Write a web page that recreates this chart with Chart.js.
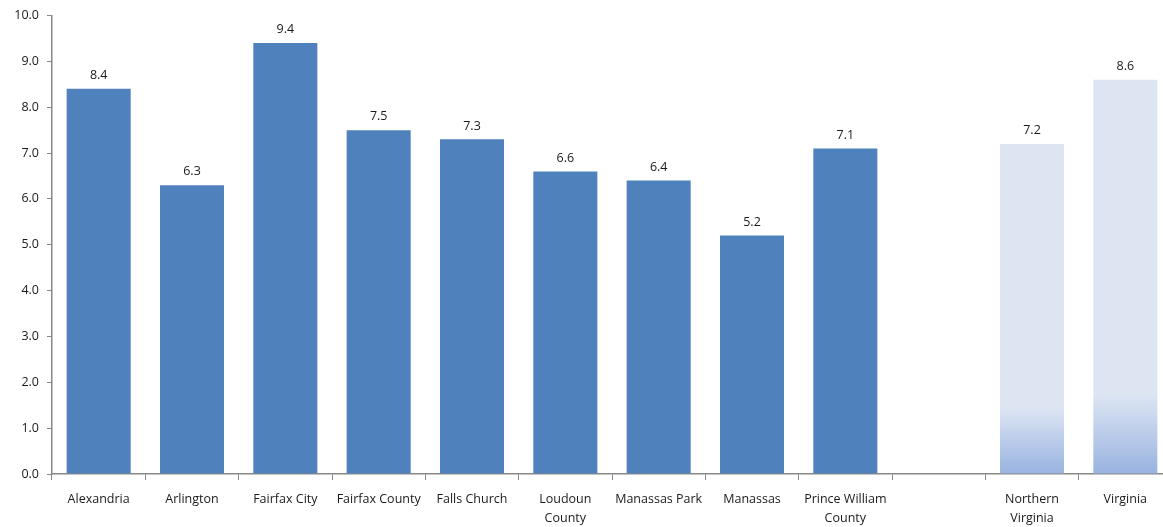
<!DOCTYPE html>
<html>
<head>
<meta charset="utf-8">
<script src="https://cdn.jsdelivr.net/npm/chart.js@4"></script>
<style>
  html, body { margin: 0; padding: 0; background: #fff; overflow: hidden; }
  #wrap { width: 1172px; height: 527px; position: relative; }
</style>
</head>
<body>
<div id="wrap"><canvas id="chart"></canvas></div>
<script>
// categorias (el hueco vacio separa las regiones)
const categories = [
  "Alexandria", "Arlington", "Fairfax City", "Fairfax County", "Falls Church",
  ["Loudoun", "County"], "Manassas Park", "Manassas", ["Prince William", "County"],
  "", ["Northern", "Virginia"], "Virginia"
];
const values = [8.4, 6.3, 9.4, 7.5, 7.3, 6.6, 6.4, 5.2, 7.1, null, 7.2, 8.6];
const isRegion = [false, false, false, false, false, false, false, false, false, false, true, true];
const yTicks = [0, 1, 2, 3, 4, 5, 6, 7, 8, 9, 10];

const FONT = "'Open Sans', 'DejaVu Sans', sans-serif";
const TXT = "#1a1a1a";

function barColor(ctx) {
  const i = ctx.dataIndex;
  if (!isRegion[i]) return "#4f81bd";
  const chart = ctx.chart;
  const y = chart.scales.y;
  if (!y || !chart.chartArea) return "#dde5f3";
  const top = y.getPixelForValue(values[i]);
  const bot = y.getPixelForValue(0);
  const g = chart.ctx.createLinearGradient(0, bot, 0, top);
  g.addColorStop(0, "#98b3e0");
  g.addColorStop(0.2, "#dde5f3");
  g.addColorStop(1, "#dde5f3");
  return g;
}

// etiquetas encima de cada barra
const valueLabels = {
  id: "valueLabels",
  afterDatasetsDraw(chart) {
    const c = chart.ctx;
    const meta = chart.getDatasetMeta(0);
    c.save();
    c.font = "12.5px " + FONT;
    c.fillStyle = TXT;
    c.textAlign = "center";
    c.textBaseline = "bottom";
    meta.data.forEach((bar, i) => {
      if (values[i] == null) return;
      c.fillText(values[i].toFixed(1), bar.x, bar.y - 7);
    });
    c.restore();
  }
};

new Chart(document.getElementById("chart"), {
  type: "bar",
  data: {
    labels: categories,
    datasets: [{
      data: values,
      backgroundColor: barColor,
      barPercentage: 0.686,
      categoryPercentage: 1.0
    }]
  },
  options: {
    responsive: true,
    maintainAspectRatio: false,
    animation: false,
    layout: { padding: { top: 14, right: 0, left: 0, bottom: 0 } },
    plugins: { legend: { display: false }, tooltip: { enabled: false } },
    scales: {
      x: {
        offset: true,
        afterFit: (s) => { s.height = 53; },
        grid: { offset: true, drawOnChartArea: false, drawTicks: true, tickLength: 6, color: "#888" },
        border: { color: "#888", width: 1.5 },
        ticks: { color: TXT, font: { family: FONT, size: 12.5, lineHeight: 1.5 }, maxRotation: 0, autoSkip: false, padding: 10 }
      },
      y: {
        min: 0, max: 10,
        afterBuildTicks: (s) => { s.ticks = yTicks.map(v => ({ value: v })); },
        afterFit: (s) => { s.width = 52; },
        grid: { drawOnChartArea: false, drawTicks: true, tickLength: 5, color: "#888" },
        border: { color: "#888", width: 1.5 },
        ticks: { color: TXT, font: { family: FONT, size: 12.5 }, padding: 8, callback: (v) => Number(v).toFixed(1) }
      }
    }
  },
  plugins: [valueLabels]
});
</script>
</body>
</html>
